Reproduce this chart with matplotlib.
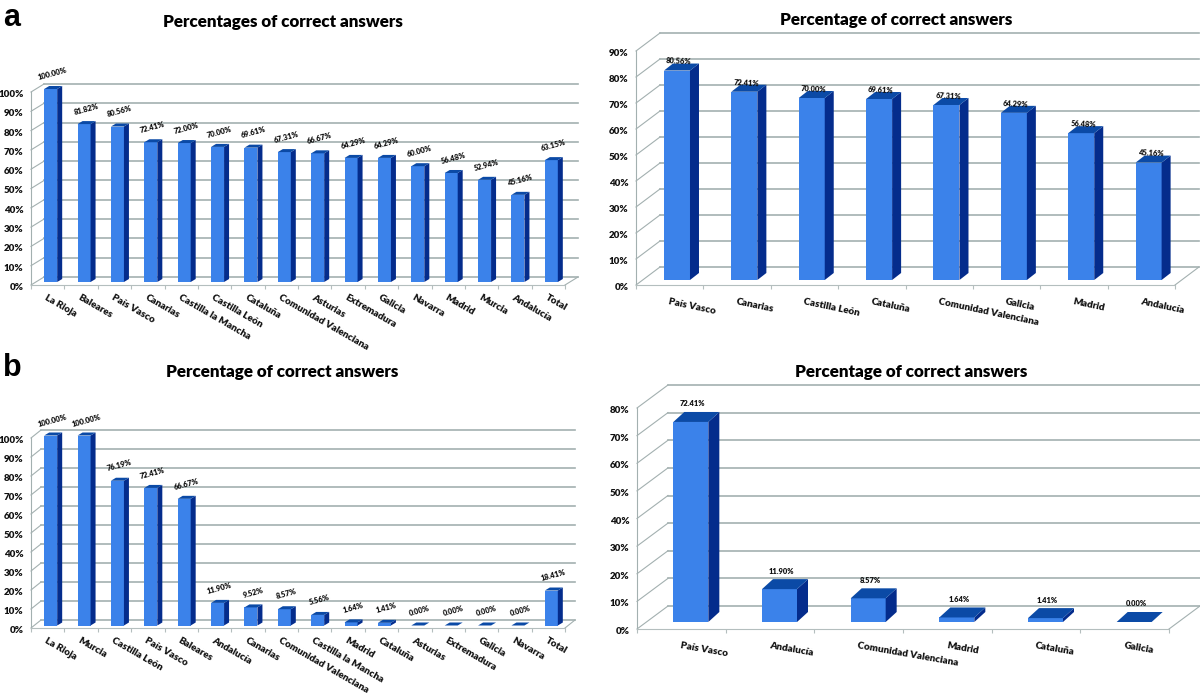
import numpy as np
import matplotlib
matplotlib.use("Agg")
import matplotlib.pyplot as plt
from matplotlib.transforms import ScaledTranslation

plt.rcParams['font.family'] = ['Lato', 'DejaVu Sans']
plt.rcParams['font.weight'] = 'heavy'

W, H = 1200, 693

# panel a, left
names_a1 = ['La Rioja', 'Baleares', 'País Vasco', 'Canarias', 'Castilla la Mancha', 'Castilla León',
            'Cataluña', 'Comunidad Valenciana', 'Asturias', 'Extremadura', 'Galicia', 'Navarra',
            'Madrid', 'Murcia', 'Andalucía', 'Total']
values_a1 = [100.00, 81.82, 80.56, 72.41, 72.00, 70.00, 69.61, 67.31, 66.67, 64.29, 64.29, 60.00,
             56.48, 52.94, 45.16, 63.15]

# panel a, right
names_a2 = ['País Vasco', 'Canarias', 'Castilla León', 'Cataluña', 'Comunidad Valenciana',
            'Galicia', 'Madrid', 'Andalucía']
values_a2 = [80.56, 72.41, 70.00, 69.61, 67.31, 64.29, 56.48, 45.16]

# panel b, left
names_b1 = ['La Rioja', 'Murcia', 'Castilla León', 'País Vasco', 'Baleares', 'Andalucía', 'Canarias',
            'Comunidad Valenciana', 'Castilla la Mancha', 'Madrid', 'Cataluña', 'Asturias',
            'Extremadura', 'Galicia', 'Navarra', 'Total']
values_b1 = [100.00, 100.00, 76.19, 72.41, 66.67, 11.90, 9.52, 8.57, 5.56, 1.64, 1.41, 0.00,
             0.00, 0.00, 0.00, 18.41]

# panel b, right
names_b2 = ['País Vasco', 'Andalucía', 'Comunidad Valenciana', 'Madrid', 'Cataluña', 'Galicia']
values_b2 = [72.41, 11.90, 8.57, 1.64, 1.41, 0.00]

FRONT = '#3b82ea'
SIDE = '#042c8c'
TOP = '#0b4aa6'
GRID = '#a3b0b0'
FLOOR = '#b4bebe'


def panel(names, values, ymax, box, wall, shift, bar_w, depth, lab_up, lab_rot, tick_rot, tick_pad, val_size):
    # box is left, right, y of 0, y of ymax, all in pixels of the figure
    left, right, y0, ytop = box
    ax = fig.add_axes([left / W, 1 - y0 / H, (right - left) / W, (y0 - ytop) / H])
    n = len(names)
    ax.set_xlim(0, n)
    ax.set_ylim(0, ymax)
    ax.patch.set_alpha(0)

    # pixels to data units
    ux = n / (right - left)
    uy = ymax / (y0 - ytop)

    # walls
    levels = np.arange(0, ymax + 1, 10)
    wx, wy = wall[0] * ux, wall[1] * uy
    for v in levels:
        ax.plot([0, wx], [v, v + wy], color=GRID, lw=0.8, clip_on=False, zorder=1)
        ax.plot([wx, n + wx], [v + wy, v + wy], color=GRID, lw=1.2, clip_on=False, zorder=1)
    ax.plot([n, n + wx], [0, wy], color=GRID, lw=0.8, clip_on=False, zorder=1)

    # bars, with side and top faces
    x = np.arange(n) + 0.5 + shift[0] * ux
    base = shift[1] * uy
    w = bar_w * ux
    dx, dy = depth[0] * ux, depth[1] * uy
    ax.bar(x, values, w, bottom=base, color=FRONT, zorder=3, clip_on=False)
    for xi, v in zip(x, values):
        t = base + v
        r = xi + w / 2
        l = xi - w / 2
        ax.fill([r, r + dx, r + dx, r], [base, base + dy, t + dy, t], color=SIDE, lw=0, zorder=3, clip_on=False)
        ax.fill([l, r, r + dx, l + dx], [t, t, t + dy, t + dy], color=TOP, lw=0, zorder=3, clip_on=False)
        ax.annotate('%.2f%%' % v, (xi, t), xytext=(2, lab_up), textcoords='offset pixels', ha='center',
                    va='center', fontsize=val_size, rotation=lab_rot, color='#111111', zorder=4,
                    annotation_clip=False)

    ax.set_yticks(levels)
    ax.set_yticklabels(['%d%%' % v for v in levels], fontsize=7.0, color='#111111')
    ax.set_xticks(np.arange(n + 1))
    ax.set_xticklabels([])
    ax.set_xticks(np.arange(n) + 0.5, labels=names, minor=True)
    ax.tick_params(axis='y', length=0, pad=5.5)
    ax.tick_params(axis='x', which='major', length=3, color=FLOOR, width=0.8)
    ax.tick_params(axis='x', which='minor', length=0, pad=tick_pad)
    # the % labels sit a little under their level
    nudge = ScaledTranslation(0, -1.5 / 100, fig.dpi_scale_trans)
    for lab in ax.get_yticklabels():
        lab.set_transform(lab.get_transform() + nudge)
    for lab in ax.get_xticklabels(minor=True):
        lab.set_rotation(tick_rot)
        lab.set_rotation_mode('anchor')
        lab.set_ha('left')
        lab.set_va('top')
        lab.set_fontsize(7.1)
        lab.set_color('#111111')
    ax.spines['top'].set_visible(False)
    ax.spines['right'].set_visible(False)
    ax.spines['left'].set_color(GRID)
    ax.spines['bottom'].set_color(FLOOR)
    return ax


fig = plt.figure(figsize=(W / 100, H / 100), dpi=100, facecolor='white')

panel(names_a1, values_a1, 100, (31, 565, 285, 92), (13, 8), (3, 3), 13, (5, 3), 15, 15, -30, 6, 5.4)
panel(names_a2, values_a2, 90, (636, 1175, 285, 51), (24, 18), (7.3, 5), 26, (9, 7), 9, -3, -12, 9, 5.4)
panel(names_b1, values_b1, 100, (31, 565, 628, 438), (10, 8), (3, 2.5), 13, (5, 3), 15, 15, -30, 6, 5.4)
panel(names_b2, values_b2, 80, (637, 1169, 629, 408), (31, 23), (9.5, 7), 35, (11, 10), 18, 0, -10, 9, 5.4)

# titles and panel letters
fig.text(282.5 / W, 1 - 22 / H, 'Percentages of correct answers', ha='center', va='center', fontsize=12.25)
fig.text(896 / W, 1 - 20 / H, 'Percentage of correct answers', ha='center', va='center', fontsize=12.25)
fig.text(282.5 / W, 1 - 372 / H, 'Percentage of correct answers', ha='center', va='center', fontsize=12.25)
fig.text(911 / W, 1 - 372 / H, 'Percentage of correct answers', ha='center', va='center', fontsize=12.25)
fig.text(3 / W, 1 - 18 / H, 'a', ha='left', va='center', fontsize=22, family='Liberation Sans', weight='bold')
fig.text(3 / W, 1 - 368 / H, 'b', ha='left', va='center', fontsize=22, family='Liberation Sans', weight='bold')

fig.savefig('out.png', dpi=100)
